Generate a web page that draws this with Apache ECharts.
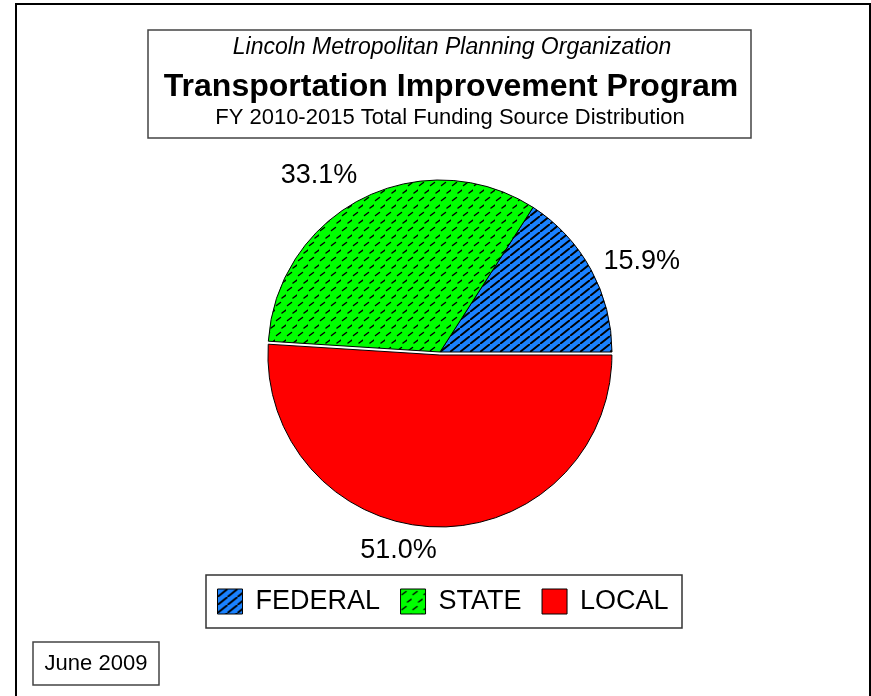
<!DOCTYPE html>
<html>
<head>
<meta charset="utf-8">
<script src="https://cdn.jsdelivr.net/npm/echarts@6/dist/echarts.min.js"></script>
<style>
html, body { margin: 0; padding: 0; background: #fff; }
#chart { width: 871px; height: 696px; }
</style>
</head>
<body>
<div id="chart"></div>
<script>
var categories = ['FEDERAL', 'STATE', 'LOCAL'];
var shares = [15.9, 33.1, 51.0];
var titleLines = [
    'Lincoln Metropolitan Planning Organization',
    'Transportation Improvement Program',
    'FY 2010-2015 Total Funding Source Distribution'
];
var dateNote = 'June 2009';

// hatch tiles
function hatchTile() {
    var c = document.createElement('canvas');
    c.width = 10; c.height = 8;
    var g = c.getContext('2d');
    g.fillStyle = '#1a82ff';
    g.fillRect(0, 0, 10, 8);
    g.strokeStyle = '#000';
    g.lineWidth = 1.9;
    g.beginPath();
    g.moveTo(-1.25, 9); g.lineTo(11.25, -1);
    g.moveTo(-3, 1.6); g.lineTo(2, -2.4);
    g.moveTo(8, 10.4); g.lineTo(13, 6.4);
    g.stroke();
    return c;
}
function dashTile() {
    var c = document.createElement('canvas');
    c.width = 11; c.height = 15;
    var g = c.getContext('2d');
    g.fillStyle = '#00ff00';
    g.fillRect(0, 0, 11, 15);
    g.strokeStyle = '#000';
    g.lineWidth = 1.4;
    g.lineCap = 'round';
    g.beginPath();
    g.moveTo(1.5, 5.5); g.lineTo(5.5, 2.5);
    g.moveTo(7, 13); g.lineTo(11, 10);
    g.stroke();
    return c;
}

var colors = [
    { image: hatchTile(), repeat: 'repeat' },
    { image: dashTile(), repeat: 'repeat' },
    '#ff0000'
];

// small label nudges to match original placement
var labelShift = [[-14, 2], [13, -5], [12, 4]];

var chart = echarts.init(document.getElementById('chart'));

var option = {
    backgroundColor: '#fff',
    animation: false,
    legend: {
        data: categories,
        left: 217,
        top: 588,
        padding: 0,
        itemWidth: 25,
        itemHeight: 25,
        itemGap: 20,
        selectedMode: false,
        icon: 'rect',
        itemStyle: { borderColor: '#000', borderWidth: 1 },
        textStyle: {
            fontFamily: 'Liberation Sans',
            fontSize: 27,
            color: '#000',
            padding: [0, 0, 0, 8]
        }
    },
    graphic: [
        { type: 'rect', shape: { x: 16, y: 4, width: 854, height: 700 },
          style: { fill: 'none', stroke: '#000', lineWidth: 2 } },
        { type: 'rect', shape: { x: 148, y: 30, width: 603, height: 108 },
          style: { fill: 'none', stroke: '#444', lineWidth: 1.5 } },
        { type: 'text', x: 452, y: 48,
          style: { text: titleLines[0], fill: '#000', font: 'italic 23px "Liberation Sans"',
                   align: 'center', verticalAlign: 'middle' } },
        { type: 'text', x: 451, y: 87,
          style: { text: titleLines[1], fill: '#000', font: 'bold 32px "Liberation Sans"',
                   align: 'center', verticalAlign: 'middle' } },
        { type: 'text', x: 450, y: 118,
          style: { text: titleLines[2], fill: '#000', font: '22px "Liberation Sans"',
                   align: 'center', verticalAlign: 'middle' } },
        { type: 'rect', shape: { x: 206, y: 575, width: 476, height: 53 },
          style: { fill: 'none', stroke: '#333', lineWidth: 1.5 } },
        { type: 'rect', shape: { x: 33, y: 642, width: 126, height: 43 },
          style: { fill: 'none', stroke: '#444', lineWidth: 1.5 } },
        { type: 'text', x: 96, y: 664,
          style: { text: dateNote, fill: '#000', font: '22px "Liberation Sans"',
                   align: 'center', verticalAlign: 'middle' } }
    ],
    series: [{
        type: 'pie',
        center: [440, 352],
        radius: 172,
        startAngle: 0,
        clockwise: false,
        selectedMode: 'single',
        selectedOffset: 3,
        avoidLabelOverlap: false,
        itemStyle: { borderColor: '#000', borderWidth: 1 },
        label: {
            show: true,
            position: 'outside',
            formatter: function (p) { return p.value.toFixed(1) + '%'; },
            fontFamily: 'Liberation Sans',
            fontSize: 27,
            color: '#000'
        },
        labelLine: { show: false, length: 20, length2: 4 },
        labelLayout: function (p) {
            return { dx: labelShift[p.dataIndex][0], dy: labelShift[p.dataIndex][1] };
        },
        emphasis: { disabled: true },
        data: categories.map(function (name, i) {
            return {
                name: name,
                value: shares[i],
                selected: name === 'LOCAL',
                itemStyle: { color: colors[i] }
            };
        })
    }]
};

chart.setOption(option);
</script>
</body>
</html>
